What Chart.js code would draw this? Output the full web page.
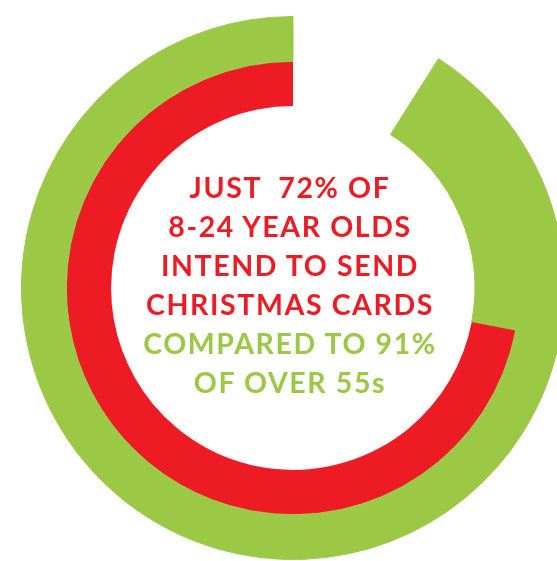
<!DOCTYPE html>
<html>
<head>
<meta charset="utf-8">
<script src="https://cdn.jsdelivr.net/npm/chart.js@4/dist/chart.umd.min.js"></script>
<style>
  html, body { margin: 0; padding: 0; background: #fff; width: 557px; height: 561px; overflow: hidden; }
  #wrap { position: absolute; left: 21px; top: 16px; width: 544px; height: 544px; }
  #caption { position: absolute; left: 70px; width: 440px; top: 168px; text-align: center;
    font-family: Lato, sans-serif; font-weight: 700; font-size: 28.5px; line-height: 39px; letter-spacing: 1.6px; }
  .red { color: #ed1c24; }
  .green { color: #9bc946; }
</style>
</head>
<body>
<div id="wrap"><canvas id="mycanvas" width="544" height="544"></canvas></div>
<div id="caption">
  <div class="red">JUST&nbsp; 72% OF</div>
  <div class="red">8-24 YEAR OLDS</div>
  <div class="red">INTEND TO SEND</div>
  <div class="red">CHRISTMAS CARDS</div>
  <div class="green">COMPARED TO 91%</div>
  <div class="green">OF OVER 55s</div>
</div>
<script>
var groups = ['Over 55s', '8-24 year olds'];
var percents = [91, 72];
var green = '#9bc946';
var red = '#ed1c24';
var none = 'rgba(0,0,0,0)';

// rings run clockwise from 12 o'clock: the empty part first, then the share,
// so each share ends back at 12 o'clock. The green share is full width where
// there is no red, so the inner ring shows green between the two ends.
var outer = [100 - percents[0], percents[0]];
var inner = [100 - percents[0], percents[0] - percents[1], percents[1]];

var ctx = document.getElementById('mycanvas');
var chart = new Chart(ctx, {
  type: 'doughnut',
  data: {
    labels: ['rest', 'over 55s only', 'share'],
    datasets: [
      {
        label: groups[0],
        data: outer,
        backgroundColor: [none, green],
        hoverBackgroundColor: [none, green],
        borderColor: [none, green],
        borderWidth: [0, 1]
      },
      {
        label: groups[1],
        data: inner,
        backgroundColor: [none, green, red],
        hoverBackgroundColor: [none, green, red],
        borderColor: [none, green, red],
        borderWidth: [0, 1, 0]
      }
    ]
  },
  options: {
    responsive: false,
    animation: false,
    cutout: '67%',
    rotation: 0,
    layout: { padding: 0 },
    plugins: { legend: { display: false }, tooltip: { enabled: false } }
  }
});
</script>
</body>
</html>
